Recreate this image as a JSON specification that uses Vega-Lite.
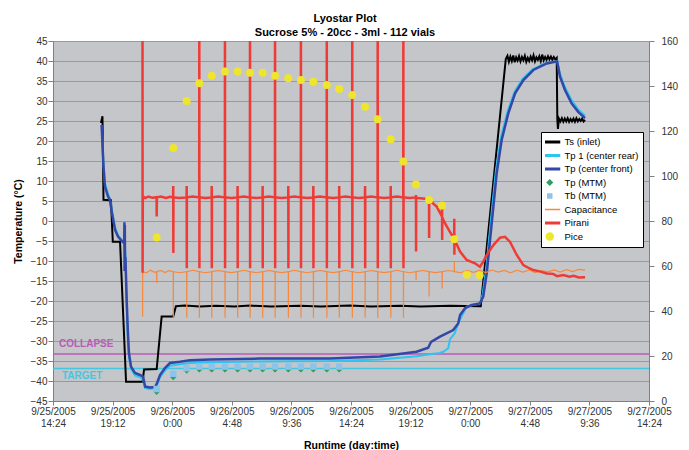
{
  "$schema": "https://vega.github.io/schema/vega-lite/v6.json",
  "width": 596,
  "height": 360,
  "autosize": {"type": "none"},
  "padding": {"left": 53, "top": 41, "right": 40, "bottom": 49},
  "background": "#FFFFFF",
  "config": {
    "view": {"fill": "#C5C6C9", "stroke": null},
    "font": "Liberation Sans",
    "axis": {"labelFont": "Liberation Sans", "titleFont": "Liberation Sans"}
  },
  "title": {
    "text": ["Lyostar Plot", "Sucrose 5% - 20cc - 3ml - 112 vials"],
    "font": "Liberation Sans",
    "fontSize": 11,
    "fontWeight": "bold",
    "color": "#000000",
    "anchor": "middle",
    "dx": -6,
    "offset": -11,
    "lineHeight": 14.3,
    "baseline": "alphabetic"
  },
  "datasets": {
    "legend": [
      {"s": "Ts (inlet)"}, {"s": "Tp 1 (center rear)"}, {"s": "Tp (center front)"}, {"s": "Tp (MTM)"},
      {"s": "Tb (MTM)"}, {"s": "Capacitance"}, {"s": "Pirani"}, {"s": "Pice"}
    ],
    "ref": [
      {"name": "COLLAPSE", "v": -33.25, "t": "2005-09-25T14:24:00", "t2": "2005-09-27T14:24:00"},
      {"name": "TARGET", "v": -36.9, "t": "2005-09-25T14:24:00", "t2": "2005-09-27T14:24:00"}
    ],
    "ts": [
      {"t": "2005-09-25T18:16:00", "v": 24.5}, {"t": "2005-09-25T18:23:00", "v": 26.2},
      {"t": "2005-09-25T18:28:00", "v": 5.3}, {"t": "2005-09-25T19:04:00", "v": 5.2},
      {"t": "2005-09-25T19:13:00", "v": -5.2}, {"t": "2005-09-25T19:48:00", "v": -5.2},
      {"t": "2005-09-25T20:17:00", "v": -40.2}, {"t": "2005-09-25T21:37:00", "v": -40.2},
      {"t": "2005-09-25T21:44:00", "v": -37.1}, {"t": "2005-09-25T22:45:00", "v": -37.0},
      {"t": "2005-09-25T23:09:00", "v": -23.9}, {"t": "2005-09-26T00:05:00", "v": -23.9},
      {"t": "2005-09-26T00:18:00", "v": -21.3}, {"t": "2005-09-26T01:00:00", "v": -21.1},
      {"t": "2005-09-26T02:14:00", "v": -21.4}, {"t": "2005-09-26T03:30:00", "v": -21.2},
      {"t": "2005-09-26T05:00:00", "v": -21.35}, {"t": "2005-09-26T06:16:00", "v": -21.15},
      {"t": "2005-09-26T08:00:00", "v": -21.4}, {"t": "2005-09-26T10:18:00", "v": -21.2},
      {"t": "2005-09-26T12:00:00", "v": -21.35}, {"t": "2005-09-26T14:19:00", "v": -21.15},
      {"t": "2005-09-26T16:00:00", "v": -21.4}, {"t": "2005-09-26T18:21:00", "v": -21.2},
      {"t": "2005-09-26T20:00:00", "v": -21.35}, {"t": "2005-09-26T22:22:00", "v": -21.2},
      {"t": "2005-09-27T00:51:00", "v": -21.3}, {"t": "2005-09-27T02:52:00", "v": 40.5},
      {"t": "2005-09-27T03:00:00", "v": 41.3}, {"t": "2005-09-27T03:07:00", "v": 39.8},
      {"t": "2005-09-27T03:14:00", "v": 41.1}, {"t": "2005-09-27T03:21:00", "v": 40.0},
      {"t": "2005-09-27T03:28:00", "v": 41.4}, {"t": "2005-09-27T03:35:00", "v": 39.7},
      {"t": "2005-09-27T03:42:00", "v": 40.9}, {"t": "2005-09-27T03:49:00", "v": 40.1},
      {"t": "2005-09-27T03:56:00", "v": 41.2}, {"t": "2005-09-27T04:03:00", "v": 39.9},
      {"t": "2005-09-27T04:10:00", "v": 41.0}, {"t": "2005-09-27T04:17:00", "v": 40.2},
      {"t": "2005-09-27T04:24:00", "v": 41.3}, {"t": "2005-09-27T04:31:00", "v": 39.8},
      {"t": "2005-09-27T04:38:00", "v": 40.8}, {"t": "2005-09-27T04:45:00", "v": 40.0},
      {"t": "2005-09-27T04:52:00", "v": 41.1}, {"t": "2005-09-27T04:59:00", "v": 40.2},
      {"t": "2005-09-27T05:06:00", "v": 41.4}, {"t": "2005-09-27T05:13:00", "v": 39.9},
      {"t": "2005-09-27T05:20:00", "v": 40.9}, {"t": "2005-09-27T05:27:00", "v": 40.3},
      {"t": "2005-09-27T05:34:00", "v": 41.2}, {"t": "2005-09-27T05:41:00", "v": 40.0},
      {"t": "2005-09-27T05:48:00", "v": 41.6}, {"t": "2005-09-27T05:55:00", "v": 40.2},
      {"t": "2005-09-27T06:02:00", "v": 41.0}, {"t": "2005-09-27T06:09:00", "v": 40.3},
      {"t": "2005-09-27T06:16:00", "v": 41.2}, {"t": "2005-09-27T06:23:00", "v": 40.4},
      {"t": "2005-09-27T06:30:00", "v": 41.1}, {"t": "2005-09-27T06:37:00", "v": 40.3},
      {"t": "2005-09-27T06:44:00", "v": 41.0}, {"t": "2005-09-27T06:51:00", "v": 40.4},
      {"t": "2005-09-27T06:58:00", "v": 40.8}, {"t": "2005-09-27T07:01:00", "v": 25.3},
      {"t": "2005-09-27T07:04:00", "v": 23.0}, {"t": "2005-09-27T07:09:00", "v": 25.6},
      {"t": "2005-09-27T07:16:00", "v": 24.9}, {"t": "2005-09-27T07:23:00", "v": 25.7},
      {"t": "2005-09-27T07:30:00", "v": 24.8}, {"t": "2005-09-27T07:37:00", "v": 25.6},
      {"t": "2005-09-27T07:44:00", "v": 24.9}, {"t": "2005-09-27T07:51:00", "v": 25.7},
      {"t": "2005-09-27T07:58:00", "v": 24.8}, {"t": "2005-09-27T08:05:00", "v": 25.5},
      {"t": "2005-09-27T08:12:00", "v": 24.9}, {"t": "2005-09-27T08:19:00", "v": 25.6},
      {"t": "2005-09-27T08:26:00", "v": 24.8}, {"t": "2005-09-27T08:33:00", "v": 25.7},
      {"t": "2005-09-27T08:40:00", "v": 24.9}, {"t": "2005-09-27T08:47:00", "v": 25.5},
      {"t": "2005-09-27T08:54:00", "v": 25.0}, {"t": "2005-09-27T09:01:00", "v": 25.6},
      {"t": "2005-09-27T09:08:00", "v": 24.9}, {"t": "2005-09-27T09:15:00", "v": 25.3}
    ],
    "tp1": [
      {"t": "2005-09-25T18:19:00", "v": 24.0}, {"t": "2005-09-25T18:28:00", "v": 14.5},
      {"t": "2005-09-25T18:35:00", "v": 9.5}, {"t": "2005-09-25T18:50:00", "v": 6.8},
      {"t": "2005-09-25T18:59:00", "v": 5.6}, {"t": "2005-09-25T19:09:00", "v": 2.6},
      {"t": "2005-09-25T19:24:00", "v": -1.6}, {"t": "2005-09-25T19:38:00", "v": -3.5},
      {"t": "2005-09-25T19:57:00", "v": -4.8}, {"t": "2005-09-25T20:08:00", "v": -5.4},
      {"t": "2005-09-25T20:14:00", "v": -8.0}, {"t": "2005-09-25T20:20:00", "v": -21.0},
      {"t": "2005-09-25T20:26:00", "v": -29.5}, {"t": "2005-09-25T20:31:00", "v": -34.0},
      {"t": "2005-09-25T20:41:00", "v": -37.0}, {"t": "2005-09-25T21:00:00", "v": -38.6},
      {"t": "2005-09-25T21:24:00", "v": -39.1}, {"t": "2005-09-25T21:39:00", "v": -39.5},
      {"t": "2005-09-25T21:49:00", "v": -41.8}, {"t": "2005-09-25T22:13:00", "v": -42.0},
      {"t": "2005-09-25T22:37:00", "v": -41.8}, {"t": "2005-09-25T22:47:00", "v": -41.0},
      {"t": "2005-09-25T23:01:00", "v": -39.1}, {"t": "2005-09-25T23:25:00", "v": -37.4},
      {"t": "2005-09-25T23:49:00", "v": -36.2}, {"t": "2005-09-26T00:38:00", "v": -35.8},
      {"t": "2005-09-26T01:26:00", "v": -35.5}, {"t": "2005-09-26T03:03:00", "v": -35.3},
      {"t": "2005-09-26T07:04:00", "v": -35.1}, {"t": "2005-09-26T12:42:00", "v": -35.0},
      {"t": "2005-09-26T16:44:00", "v": -34.6}, {"t": "2005-09-26T19:41:00", "v": -33.8},
      {"t": "2005-09-26T20:37:00", "v": -33.4}, {"t": "2005-09-26T21:34:00", "v": -33.0},
      {"t": "2005-09-26T21:50:00", "v": -32.7}, {"t": "2005-09-26T22:14:00", "v": -31.8},
      {"t": "2005-09-26T22:22:00", "v": -29.6}, {"t": "2005-09-26T22:46:00", "v": -28.0},
      {"t": "2005-09-26T23:02:00", "v": -25.6}, {"t": "2005-09-26T23:27:00", "v": -23.0},
      {"t": "2005-09-26T23:43:00", "v": -21.4}, {"t": "2005-09-27T00:47:00", "v": -20.6},
      {"t": "2005-09-27T01:00:00", "v": -18.3}, {"t": "2005-09-27T01:16:00", "v": -12.5},
      {"t": "2005-09-27T01:32:00", "v": -4.0}, {"t": "2005-09-27T01:48:00", "v": 4.5},
      {"t": "2005-09-27T02:04:00", "v": 12.5}, {"t": "2005-09-27T02:28:00", "v": 20.8},
      {"t": "2005-09-27T03:00:00", "v": 27.3}, {"t": "2005-09-27T03:33:00", "v": 32.2},
      {"t": "2005-09-27T04:13:00", "v": 35.5}, {"t": "2005-09-27T05:01:00", "v": 37.9},
      {"t": "2005-09-27T06:06:00", "v": 39.5}, {"t": "2005-09-27T06:50:00", "v": 39.9},
      {"t": "2005-09-27T07:00:00", "v": 40.0}, {"t": "2005-09-27T07:14:00", "v": 36.8},
      {"t": "2005-09-27T07:38:00", "v": 33.5}, {"t": "2005-09-27T08:10:00", "v": 30.2},
      {"t": "2005-09-27T08:42:00", "v": 27.9}, {"t": "2005-09-27T09:15:00", "v": 26.3}
    ],
    "tp": [
      {"t": "2005-09-25T18:19:00", "v": 24.0}, {"t": "2005-09-25T18:28:00", "v": 13.6},
      {"t": "2005-09-25T18:35:00", "v": 8.6}, {"t": "2005-09-25T18:50:00", "v": 6.1},
      {"t": "2005-09-25T18:59:00", "v": 5.25}, {"t": "2005-09-25T19:09:00", "v": 2.0},
      {"t": "2005-09-25T19:24:00", "v": -2.25}, {"t": "2005-09-25T19:38:00", "v": -3.9},
      {"t": "2005-09-25T19:57:00", "v": -5.0}, {"t": "2005-09-25T20:08:00", "v": -5.5},
      {"t": "2005-09-25T20:09:00", "v": -0.3}, {"t": "2005-09-25T20:10:00", "v": -12.5},
      {"t": "2005-09-25T20:11:00", "v": -1.0}, {"t": "2005-09-25T20:12:00", "v": -12.0},
      {"t": "2005-09-25T20:14:00", "v": -9.0}, {"t": "2005-09-25T20:20:00", "v": -19.75},
      {"t": "2005-09-25T20:26:00", "v": -28.0}, {"t": "2005-09-25T20:31:00", "v": -33.0},
      {"t": "2005-09-25T20:41:00", "v": -36.4}, {"t": "2005-09-25T21:00:00", "v": -38.0},
      {"t": "2005-09-25T21:24:00", "v": -38.5}, {"t": "2005-09-25T21:39:00", "v": -38.9},
      {"t": "2005-09-25T21:49:00", "v": -41.4}, {"t": "2005-09-25T22:13:00", "v": -41.6},
      {"t": "2005-09-25T22:37:00", "v": -41.5}, {"t": "2005-09-25T22:47:00", "v": -40.5},
      {"t": "2005-09-25T23:01:00", "v": -38.5}, {"t": "2005-09-25T23:25:00", "v": -36.75},
      {"t": "2005-09-25T23:49:00", "v": -35.5}, {"t": "2005-09-26T00:38:00", "v": -35.2},
      {"t": "2005-09-26T01:26:00", "v": -34.8}, {"t": "2005-09-26T03:03:00", "v": -34.6},
      {"t": "2005-09-26T07:04:00", "v": -34.4}, {"t": "2005-09-26T12:42:00", "v": -34.4},
      {"t": "2005-09-26T16:44:00", "v": -33.9}, {"t": "2005-09-26T19:41:00", "v": -32.7},
      {"t": "2005-09-26T20:37:00", "v": -31.7}, {"t": "2005-09-26T20:51:00", "v": -30.2},
      {"t": "2005-09-26T21:34:00", "v": -28.9}, {"t": "2005-09-26T22:38:00", "v": -27.25},
      {"t": "2005-09-26T23:02:00", "v": -25.6}, {"t": "2005-09-26T23:11:00", "v": -23.5},
      {"t": "2005-09-26T23:35:00", "v": -21.8}, {"t": "2005-09-27T00:07:00", "v": -21.0},
      {"t": "2005-09-27T00:47:00", "v": -20.6}, {"t": "2005-09-27T01:03:00", "v": -18.9},
      {"t": "2005-09-27T01:20:00", "v": -13.0}, {"t": "2005-09-27T01:36:00", "v": -4.75},
      {"t": "2005-09-27T01:52:00", "v": 3.6}, {"t": "2005-09-27T02:08:00", "v": 11.9},
      {"t": "2005-09-27T02:32:00", "v": 20.25}, {"t": "2005-09-27T03:04:00", "v": 26.9},
      {"t": "2005-09-27T03:37:00", "v": 31.9}, {"t": "2005-09-27T04:17:00", "v": 35.25},
      {"t": "2005-09-27T05:05:00", "v": 37.75}, {"t": "2005-09-27T06:10:00", "v": 39.4},
      {"t": "2005-09-27T06:50:00", "v": 39.8}, {"t": "2005-09-27T07:00:00", "v": 39.9},
      {"t": "2005-09-27T07:14:00", "v": 36.1}, {"t": "2005-09-27T07:38:00", "v": 32.75},
      {"t": "2005-09-27T08:10:00", "v": 29.4}, {"t": "2005-09-27T08:42:00", "v": 27.3},
      {"t": "2005-09-27T09:15:00", "v": 25.7}
    ],
    "tpm": [
      {"t": "2005-09-25T22:45:00", "v": -42.7}, {"t": "2005-09-26T00:05:00", "v": -39.0},
      {"t": "2005-09-26T01:10:00", "v": -37.4}, {"t": "2005-09-26T02:11:00", "v": -37.1},
      {"t": "2005-09-26T03:11:00", "v": -37.1}, {"t": "2005-09-26T04:15:00", "v": -37.1},
      {"t": "2005-09-26T05:16:00", "v": -37.1}, {"t": "2005-09-26T06:16:00", "v": -37.1},
      {"t": "2005-09-26T07:17:00", "v": -37.1}, {"t": "2005-09-26T08:17:00", "v": -37.1},
      {"t": "2005-09-26T09:21:00", "v": -37.1}, {"t": "2005-09-26T10:22:00", "v": -37.1},
      {"t": "2005-09-26T11:22:00", "v": -37.1}, {"t": "2005-09-26T12:27:00", "v": -37.1},
      {"t": "2005-09-26T13:27:00", "v": -37.1}
    ],
    "tbm": [
      {"t": "2005-09-25T22:45:00", "v": -42.0}, {"t": "2005-09-26T00:05:00", "v": -38.2},
      {"t": "2005-09-26T01:10:00", "v": -36.8}, {"t": "2005-09-26T02:11:00", "v": -36.4},
      {"t": "2005-09-26T03:11:00", "v": -36.4}, {"t": "2005-09-26T04:15:00", "v": -36.4},
      {"t": "2005-09-26T05:16:00", "v": -36.4}, {"t": "2005-09-26T06:16:00", "v": -36.4},
      {"t": "2005-09-26T07:17:00", "v": -36.4}, {"t": "2005-09-26T08:17:00", "v": -36.4},
      {"t": "2005-09-26T09:21:00", "v": -36.4}, {"t": "2005-09-26T10:22:00", "v": -36.4},
      {"t": "2005-09-26T11:22:00", "v": -36.4}, {"t": "2005-09-26T12:27:00", "v": -36.4},
      {"t": "2005-09-26T13:27:00", "v": -36.4}
    ],
    "cap": [
      {"t": "2005-09-25T21:37:00", "v": 37.5}, {"t": "2005-09-25T21:37:30", "v": 57.5},
      {"t": "2005-09-25T21:55:00", "v": 57.0}, {"t": "2005-09-25T22:15:00", "v": 58.1},
      {"t": "2005-09-25T22:35:00", "v": 57.2}, {"t": "2005-09-25T22:45:00", "v": 57.5},
      {"t": "2005-09-25T22:45:30", "v": 52.4}, {"t": "2005-09-25T22:46:00", "v": 57.5},
      {"t": "2005-09-25T23:05:00", "v": 58.0}, {"t": "2005-09-25T23:25:00", "v": 57.1},
      {"t": "2005-09-25T23:45:00", "v": 57.9},
      {"t": "2005-09-26T00:05:00", "v": 57.5}, {"t": "2005-09-26T00:05:30", "v": 37}, {"t": "2005-09-26T00:06:00", "v": 57.5},
      {"t": "2005-09-26T00:35:00", "v": 57.0},
      {"t": "2005-09-26T01:10:00", "v": 57.5}, {"t": "2005-09-26T01:10:30", "v": 37}, {"t": "2005-09-26T01:11:00", "v": 57.5},
      {"t": "2005-09-26T01:40:00", "v": 58.1},
      {"t": "2005-09-26T02:11:00", "v": 57.5}, {"t": "2005-09-26T02:11:30", "v": 37}, {"t": "2005-09-26T02:12:00", "v": 57.5},
      {"t": "2005-09-26T02:41:00", "v": 57.0},
      {"t": "2005-09-26T03:11:00", "v": 57.5}, {"t": "2005-09-26T03:11:30", "v": 37}, {"t": "2005-09-26T03:12:00", "v": 57.5},
      {"t": "2005-09-26T03:43:00", "v": 58.0},
      {"t": "2005-09-26T04:15:00", "v": 57.5}, {"t": "2005-09-26T04:15:30", "v": 37}, {"t": "2005-09-26T04:16:00", "v": 57.5},
      {"t": "2005-09-26T04:45:00", "v": 57.1},
      {"t": "2005-09-26T05:16:00", "v": 57.5}, {"t": "2005-09-26T05:16:30", "v": 37}, {"t": "2005-09-26T05:17:00", "v": 57.5},
      {"t": "2005-09-26T05:46:00", "v": 58.1},
      {"t": "2005-09-26T06:16:00", "v": 57.5}, {"t": "2005-09-26T06:16:30", "v": 37}, {"t": "2005-09-26T06:17:00", "v": 57.5},
      {"t": "2005-09-26T06:46:00", "v": 57.0},
      {"t": "2005-09-26T07:17:00", "v": 57.5}, {"t": "2005-09-26T07:17:30", "v": 37}, {"t": "2005-09-26T07:18:00", "v": 57.5},
      {"t": "2005-09-26T07:47:00", "v": 58.0},
      {"t": "2005-09-26T08:17:00", "v": 57.5}, {"t": "2005-09-26T08:17:30", "v": 37}, {"t": "2005-09-26T08:18:00", "v": 57.5},
      {"t": "2005-09-26T08:49:00", "v": 57.1},
      {"t": "2005-09-26T09:21:00", "v": 57.5}, {"t": "2005-09-26T09:21:30", "v": 37}, {"t": "2005-09-26T09:22:00", "v": 57.5},
      {"t": "2005-09-26T09:51:00", "v": 58.1},
      {"t": "2005-09-26T10:22:00", "v": 57.5}, {"t": "2005-09-26T10:22:30", "v": 37}, {"t": "2005-09-26T10:23:00", "v": 57.5},
      {"t": "2005-09-26T10:52:00", "v": 57.0},
      {"t": "2005-09-26T11:22:00", "v": 57.5}, {"t": "2005-09-26T11:22:30", "v": 37}, {"t": "2005-09-26T11:23:00", "v": 57.5},
      {"t": "2005-09-26T11:54:00", "v": 58.0},
      {"t": "2005-09-26T12:27:00", "v": 57.5}, {"t": "2005-09-26T12:27:30", "v": 37}, {"t": "2005-09-26T12:28:00", "v": 57.5},
      {"t": "2005-09-26T12:57:00", "v": 57.1},
      {"t": "2005-09-26T13:27:00", "v": 57.5}, {"t": "2005-09-26T13:27:30", "v": 37}, {"t": "2005-09-26T13:28:00", "v": 57.5},
      {"t": "2005-09-26T13:58:00", "v": 58.1},
      {"t": "2005-09-26T14:30:00", "v": 57.5}, {"t": "2005-09-26T14:30:30", "v": 37}, {"t": "2005-09-26T14:31:00", "v": 57.5},
      {"t": "2005-09-26T15:01:00", "v": 57.0},
      {"t": "2005-09-26T15:32:00", "v": 57.5}, {"t": "2005-09-26T15:32:30", "v": 37}, {"t": "2005-09-26T15:33:00", "v": 57.5},
      {"t": "2005-09-26T16:02:00", "v": 58.0},
      {"t": "2005-09-26T16:33:00", "v": 57.5}, {"t": "2005-09-26T16:33:30", "v": 37}, {"t": "2005-09-26T16:34:00", "v": 57.5},
      {"t": "2005-09-26T17:04:00", "v": 57.1},
      {"t": "2005-09-26T17:36:00", "v": 57.5}, {"t": "2005-09-26T17:36:30", "v": 37}, {"t": "2005-09-26T17:37:00", "v": 57.5},
      {"t": "2005-09-26T18:06:00", "v": 58.1},
      {"t": "2005-09-26T18:37:00", "v": 57.5}, {"t": "2005-09-26T18:37:30", "v": 37}, {"t": "2005-09-26T18:38:00", "v": 57.5},
      {"t": "2005-09-26T19:07:00", "v": 57.0},
      {"t": "2005-09-26T19:38:00", "v": 57.5}, {"t": "2005-09-26T19:38:30", "v": 53.8}, {"t": "2005-09-26T19:39:00", "v": 57.5},
      {"t": "2005-09-26T20:10:00", "v": 58.0},
      {"t": "2005-09-26T20:41:00", "v": 57.5}, {"t": "2005-09-26T20:41:30", "v": 46.4}, {"t": "2005-09-26T20:42:00", "v": 57.5},
      {"t": "2005-09-26T21:12:00", "v": 57.1},
      {"t": "2005-09-26T21:44:00", "v": 57.5}, {"t": "2005-09-26T21:44:30", "v": 50.0}, {"t": "2005-09-26T21:45:00", "v": 57.5},
      {"t": "2005-09-26T22:14:00", "v": 58.0},
      {"t": "2005-09-26T22:43:00", "v": 57.5}, {"t": "2005-09-26T22:43:30", "v": 61.9}, {"t": "2005-09-26T22:44:00", "v": 57.5},
      {"t": "2005-09-26T23:15:00", "v": 57.0}, {"t": "2005-09-26T23:45:00", "v": 58.1},
      {"t": "2005-09-27T00:15:00", "v": 57.2}, {"t": "2005-09-27T00:45:00", "v": 58.0},
      {"t": "2005-09-27T01:15:00", "v": 57.1}, {"t": "2005-09-27T01:45:00", "v": 58.2},
      {"t": "2005-09-27T02:15:00", "v": 57.3}, {"t": "2005-09-27T02:45:00", "v": 58.0},
      {"t": "2005-09-27T03:15:00", "v": 57.0}, {"t": "2005-09-27T03:45:00", "v": 58.1},
      {"t": "2005-09-27T04:15:00", "v": 57.3}, {"t": "2005-09-27T04:45:00", "v": 58.2},
      {"t": "2005-09-27T05:15:00", "v": 57.1}, {"t": "2005-09-27T05:45:00", "v": 58.0},
      {"t": "2005-09-27T06:15:00", "v": 57.4}, {"t": "2005-09-27T06:45:00", "v": 58.3},
      {"t": "2005-09-27T07:15:00", "v": 57.3}, {"t": "2005-09-27T07:45:00", "v": 58.4},
      {"t": "2005-09-27T08:15:00", "v": 57.5}, {"t": "2005-09-27T08:45:00", "v": 58.5},
      {"t": "2005-09-27T09:15:00", "v": 58.2}
    ],
    "pir": [
      {"t": "2005-09-25T21:36:30", "v": 175}, {"t": "2005-09-25T21:37:00", "v": 57},
      {"t": "2005-09-25T21:38:00", "v": 91}, {"t": "2005-09-25T21:50:00", "v": 90.2},
      {"t": "2005-09-25T22:05:00", "v": 90.9}, {"t": "2005-09-25T22:25:00", "v": 90.3},
      {"t": "2005-09-25T22:44:30", "v": 90.6}, {"t": "2005-09-25T22:45:00", "v": 82},
      {"t": "2005-09-25T22:46:00", "v": 90.5}, {"t": "2005-09-25T23:05:00", "v": 90.9},
      {"t": "2005-09-25T23:30:00", "v": 90.2}, {"t": "2005-09-25T23:50:00", "v": 90.8},
      {"t": "2005-09-26T00:04:30", "v": 90.5}, {"t": "2005-09-26T00:05:00", "v": 95.5}, {"t": "2005-09-26T00:05:30", "v": 65.8}, {"t": "2005-09-26T00:06:00", "v": 90.5},
      {"t": "2005-09-26T00:35:00", "v": 90.2},
      {"t": "2005-09-26T01:09:30", "v": 90.5}, {"t": "2005-09-26T01:10:00", "v": 95.5}, {"t": "2005-09-26T01:10:30", "v": 59}, {"t": "2005-09-26T01:11:00", "v": 90.5},
      {"t": "2005-09-26T01:40:00", "v": 90.9},
      {"t": "2005-09-26T02:10:30", "v": 90.5}, {"t": "2005-09-26T02:11:00", "v": 175}, {"t": "2005-09-26T02:11:30", "v": 59}, {"t": "2005-09-26T02:12:00", "v": 90.5},
      {"t": "2005-09-26T02:41:00", "v": 90.2},
      {"t": "2005-09-26T03:10:30", "v": 90.5}, {"t": "2005-09-26T03:11:00", "v": 95.5}, {"t": "2005-09-26T03:11:30", "v": 59}, {"t": "2005-09-26T03:12:00", "v": 90.5},
      {"t": "2005-09-26T03:43:00", "v": 90.9},
      {"t": "2005-09-26T04:14:30", "v": 90.5}, {"t": "2005-09-26T04:15:00", "v": 175}, {"t": "2005-09-26T04:15:30", "v": 59}, {"t": "2005-09-26T04:16:00", "v": 90.5},
      {"t": "2005-09-26T04:45:00", "v": 90.2},
      {"t": "2005-09-26T05:15:30", "v": 90.5}, {"t": "2005-09-26T05:16:00", "v": 95.5}, {"t": "2005-09-26T05:16:30", "v": 59}, {"t": "2005-09-26T05:17:00", "v": 90.5},
      {"t": "2005-09-26T05:46:00", "v": 90.9},
      {"t": "2005-09-26T06:15:30", "v": 90.5}, {"t": "2005-09-26T06:16:00", "v": 175}, {"t": "2005-09-26T06:16:30", "v": 59}, {"t": "2005-09-26T06:17:00", "v": 90.5},
      {"t": "2005-09-26T06:46:00", "v": 90.2},
      {"t": "2005-09-26T07:16:30", "v": 90.5}, {"t": "2005-09-26T07:17:00", "v": 95.5}, {"t": "2005-09-26T07:17:30", "v": 59}, {"t": "2005-09-26T07:18:00", "v": 90.5},
      {"t": "2005-09-26T07:47:00", "v": 90.9},
      {"t": "2005-09-26T08:16:30", "v": 90.5}, {"t": "2005-09-26T08:17:00", "v": 175}, {"t": "2005-09-26T08:17:30", "v": 59}, {"t": "2005-09-26T08:18:00", "v": 90.5},
      {"t": "2005-09-26T08:49:00", "v": 90.2},
      {"t": "2005-09-26T09:20:30", "v": 90.5}, {"t": "2005-09-26T09:21:00", "v": 95.5}, {"t": "2005-09-26T09:21:30", "v": 59}, {"t": "2005-09-26T09:22:00", "v": 90.5},
      {"t": "2005-09-26T09:51:00", "v": 90.9},
      {"t": "2005-09-26T10:21:30", "v": 90.5}, {"t": "2005-09-26T10:22:00", "v": 175}, {"t": "2005-09-26T10:22:30", "v": 59}, {"t": "2005-09-26T10:23:00", "v": 90.5},
      {"t": "2005-09-26T10:52:00", "v": 90.2},
      {"t": "2005-09-26T11:21:30", "v": 90.5}, {"t": "2005-09-26T11:22:00", "v": 95.5}, {"t": "2005-09-26T11:22:30", "v": 59}, {"t": "2005-09-26T11:23:00", "v": 90.5},
      {"t": "2005-09-26T11:54:00", "v": 90.9},
      {"t": "2005-09-26T12:26:30", "v": 90.5}, {"t": "2005-09-26T12:27:00", "v": 175}, {"t": "2005-09-26T12:27:30", "v": 59}, {"t": "2005-09-26T12:28:00", "v": 90.5},
      {"t": "2005-09-26T12:57:00", "v": 90.2},
      {"t": "2005-09-26T13:26:30", "v": 90.5}, {"t": "2005-09-26T13:27:00", "v": 95.5}, {"t": "2005-09-26T13:27:30", "v": 59}, {"t": "2005-09-26T13:28:00", "v": 90.5},
      {"t": "2005-09-26T13:58:00", "v": 90.9},
      {"t": "2005-09-26T14:29:30", "v": 90.5}, {"t": "2005-09-26T14:30:00", "v": 175}, {"t": "2005-09-26T14:30:30", "v": 59}, {"t": "2005-09-26T14:31:00", "v": 90.5},
      {"t": "2005-09-26T15:01:00", "v": 90.2},
      {"t": "2005-09-26T15:31:30", "v": 90.5}, {"t": "2005-09-26T15:32:00", "v": 95.5}, {"t": "2005-09-26T15:32:30", "v": 59}, {"t": "2005-09-26T15:33:00", "v": 90.5},
      {"t": "2005-09-26T16:02:00", "v": 90.9},
      {"t": "2005-09-26T16:32:30", "v": 90.5}, {"t": "2005-09-26T16:33:00", "v": 175}, {"t": "2005-09-26T16:33:30", "v": 59}, {"t": "2005-09-26T16:34:00", "v": 90.5},
      {"t": "2005-09-26T17:04:00", "v": 90.2},
      {"t": "2005-09-26T17:35:30", "v": 90.5}, {"t": "2005-09-26T17:36:00", "v": 95.5}, {"t": "2005-09-26T17:36:30", "v": 59}, {"t": "2005-09-26T17:37:00", "v": 90.5},
      {"t": "2005-09-26T18:06:00", "v": 90.9},
      {"t": "2005-09-26T18:36:30", "v": 90.5}, {"t": "2005-09-26T18:37:00", "v": 175}, {"t": "2005-09-26T18:37:30", "v": 59}, {"t": "2005-09-26T18:38:00", "v": 90.5},
      {"t": "2005-09-26T19:07:00", "v": 90.2},
      {"t": "2005-09-26T19:37:30", "v": 90.5}, {"t": "2005-09-26T19:38:00", "v": 91.5}, {"t": "2005-09-26T19:38:30", "v": 66.4}, {"t": "2005-09-26T19:39:00", "v": 90.3},
      {"t": "2005-09-26T20:10:00", "v": 90.0}, {"t": "2005-09-26T20:30:00", "v": 89.8},
      {"t": "2005-09-26T20:40:30", "v": 89.5}, {"t": "2005-09-26T20:41:00", "v": 90.0}, {"t": "2005-09-26T20:41:30", "v": 72.4}, {"t": "2005-09-26T20:42:00", "v": 89.2},
      {"t": "2005-09-26T20:55:00", "v": 88.2}, {"t": "2005-09-26T21:18:00", "v": 86.4},
      {"t": "2005-09-26T21:35:00", "v": 83.5},
      {"t": "2005-09-26T21:43:30", "v": 82.0}, {"t": "2005-09-26T21:44:00", "v": 88.0}, {"t": "2005-09-26T21:44:30", "v": 71.6}, {"t": "2005-09-26T21:45:00", "v": 81.5},
      {"t": "2005-09-26T21:58:00", "v": 79.0}, {"t": "2005-09-26T22:20:00", "v": 75.5},
      {"t": "2005-09-26T22:38:00", "v": 72.8},
      {"t": "2005-09-26T22:42:30", "v": 72.3}, {"t": "2005-09-26T22:43:00", "v": 81.0}, {"t": "2005-09-26T22:43:30", "v": 65.0}, {"t": "2005-09-26T22:44:00", "v": 71.8},
      {"t": "2005-09-26T23:11:00", "v": 66.4}, {"t": "2005-09-26T23:43:00", "v": 62.7},
      {"t": "2005-09-27T00:23:00", "v": 61.2}, {"t": "2005-09-27T00:47:00", "v": 59.7},
      {"t": "2005-09-27T01:05:00", "v": 62.2}, {"t": "2005-09-27T01:20:00", "v": 64.9},
      {"t": "2005-09-27T01:52:00", "v": 69.3}, {"t": "2005-09-27T02:24:00", "v": 72.6},
      {"t": "2005-09-27T02:48:00", "v": 73.0}, {"t": "2005-09-27T03:12:00", "v": 70.8},
      {"t": "2005-09-27T03:45:00", "v": 64.9}, {"t": "2005-09-27T04:17:00", "v": 60.4},
      {"t": "2005-09-27T04:45:00", "v": 59.0}, {"t": "2005-09-27T05:05:00", "v": 58.2},
      {"t": "2005-09-27T05:35:00", "v": 57.6}, {"t": "2005-09-27T06:10:00", "v": 56.7},
      {"t": "2005-09-27T06:40:00", "v": 56.5}, {"t": "2005-09-27T07:00:00", "v": 55.5},
      {"t": "2005-09-27T07:30:00", "v": 56.0}, {"t": "2005-09-27T08:00:00", "v": 55.2},
      {"t": "2005-09-27T08:20:00", "v": 55.6}, {"t": "2005-09-27T08:45:00", "v": 54.9},
      {"t": "2005-09-27T09:15:00", "v": 55.0}
    ],
    "pice": [
      {"t": "2005-09-25T22:45:00", "v": 72.7}, {"t": "2005-09-26T00:05:00", "v": 112.5},
      {"t": "2005-09-26T01:10:00", "v": 133.3}, {"t": "2005-09-26T02:11:00", "v": 141.2},
      {"t": "2005-09-26T03:11:00", "v": 144.6}, {"t": "2005-09-26T04:15:00", "v": 146.4},
      {"t": "2005-09-26T05:16:00", "v": 146.4}, {"t": "2005-09-26T06:16:00", "v": 145.9},
      {"t": "2005-09-26T07:17:00", "v": 145.9}, {"t": "2005-09-26T08:17:00", "v": 144.6},
      {"t": "2005-09-26T09:21:00", "v": 143.4}, {"t": "2005-09-26T10:22:00", "v": 142.7},
      {"t": "2005-09-26T11:22:00", "v": 141.9}, {"t": "2005-09-26T12:27:00", "v": 140.4},
      {"t": "2005-09-26T13:27:00", "v": 138.7}, {"t": "2005-09-26T14:30:00", "v": 136.0},
      {"t": "2005-09-26T15:32:00", "v": 130.8}, {"t": "2005-09-26T16:33:00", "v": 125.2},
      {"t": "2005-09-26T17:36:00", "v": 116.3}, {"t": "2005-09-26T18:37:00", "v": 106.4},
      {"t": "2005-09-26T19:38:00", "v": 96.2}, {"t": "2005-09-26T20:41:00", "v": 89.3},
      {"t": "2005-09-26T21:44:00", "v": 86.9}, {"t": "2005-09-26T22:43:00", "v": 71.9},
      {"t": "2005-09-26T23:44:00", "v": 56.1}, {"t": "2005-09-27T00:46:00", "v": 55.9}
    ]
  },
  "encoding": {
    "x": {
      "field": "t",
      "type": "temporal",
      "scale": {
        "domain": [
          {"year": 2005, "month": 9, "date": 25, "hours": 14, "minutes": 24},
          {"year": 2005, "month": 9, "date": 27, "hours": 14, "minutes": 24}
        ]
      },
      "axis": {
        "values": [
          {"year": 2005, "month": 9, "date": 25, "hours": 14, "minutes": 24},
          {"year": 2005, "month": 9, "date": 25, "hours": 19, "minutes": 12},
          {"year": 2005, "month": 9, "date": 26, "hours": 0, "minutes": 0},
          {"year": 2005, "month": 9, "date": 26, "hours": 4, "minutes": 48},
          {"year": 2005, "month": 9, "date": 26, "hours": 9, "minutes": 36},
          {"year": 2005, "month": 9, "date": 26, "hours": 14, "minutes": 24},
          {"year": 2005, "month": 9, "date": 26, "hours": 19, "minutes": 12},
          {"year": 2005, "month": 9, "date": 27, "hours": 0, "minutes": 0},
          {"year": 2005, "month": 9, "date": 27, "hours": 4, "minutes": 48},
          {"year": 2005, "month": 9, "date": 27, "hours": 9, "minutes": 36},
          {"year": 2005, "month": 9, "date": 27, "hours": 14, "minutes": 24}
        ],
        "labelExpr": "[timeFormat(datum.value, '%-m/%-d/%Y'), timeFormat(datum.value, '%-H:%M')]",
        "labelFontSize": 10,
        "labelColor": "#333333",
        "labelLineHeight": 12.5,
        "labelBaseline": "top",
        "labelPadding": 1,
        "labelOverlap": false,
        "labelFlush": false,
        "labelBound": false,
        "tickSize": 4,
        "tickColor": "#808080",
        "domainColor": "#808080",
        "grid": false,
        "title": "Runtime (day:time)",
        "titleFontSize": 10.5,
        "titleFontWeight": "bold",
        "titleColor": "#000000",
        "titleBaseline": "alphabetic",
        "titleY": 47
      }
    }
  },
  "layer": [
    {
      "encoding": {
        "y": {
          "field": "v",
          "type": "quantitative",
          "scale": {"domain": [-45, 45], "nice": false, "zero": false},
          "axis": {
            "orient": "left",
            "values": [-45, -40, -35, -30, -25, -20, -15, -10, -5, 0, 5, 10, 15, 20, 25, 30, 35, 40, 45],
            "grid": true,
            "gridColor": "#989A9D",
            "gridWidth": 1,
            "domainColor": "#808080",
            "tickColor": "#808080",
            "tickSize": 5,
            "labelPadding": 1,
            "labelFontSize": 10,
            "labelColor": "#333333",
            "title": "Temperature (°C)",
            "titleFontSize": 10.5,
            "titleFontWeight": "bold",
            "titleColor": "#000000",
            "titleAngle": -90,
            "titleX": -35,
            "titleY": 180,
            "titleAlign": "center",
            "titleBaseline": "middle"
          }
        }
      },
      "layer": [
        {
          "data": {"name": "ref"},
          "transform": [{"filter": "datum.name == 'COLLAPSE'"}],
          "mark": {"type": "rule", "color": "#B65DB6", "strokeWidth": 1.5},
          "encoding": {"x2": {"field": "t2"}}
        },
        {
          "data": {"name": "ref"},
          "transform": [{"filter": "datum.name == 'TARGET'"}],
          "mark": {"type": "rule", "color": "#45C6E0", "strokeWidth": 1.5},
          "encoding": {"x2": {"field": "t2"}}
        },
        {
          "data": {"name": "ref"},
          "transform": [{"filter": "datum.name == 'COLLAPSE'"}],
          "mark": {"type": "text", "color": "#B65DB6", "font": "Liberation Sans", "fontWeight": "bold", "fontSize": 10, "align": "left", "baseline": "alphabetic", "dx": 6, "dy": -7.5},
          "encoding": {"text": {"field": "name"}}
        },
        {
          "data": {"name": "ref"},
          "transform": [{"filter": "datum.name == 'TARGET'"}],
          "mark": {"type": "text", "color": "#45C6E0", "font": "Liberation Sans", "fontWeight": "bold", "fontSize": 10, "align": "left", "baseline": "alphabetic", "dx": 9, "dy": 10},
          "encoding": {"text": {"field": "name"}}
        },
        {
          "data": {"name": "ts"},
          "mark": {"type": "line", "color": "#000000", "strokeWidth": 2},
          "encoding": {}
        },
        {
          "data": {"name": "tp1"},
          "mark": {"type": "line", "color": "#2EC4F2", "strokeWidth": 2},
          "encoding": {}
        },
        {
          "data": {"name": "tp"},
          "mark": {"type": "line", "color": "#3347A6", "strokeWidth": 2.5},
          "encoding": {}
        },
        {
          "data": {"name": "tpm"},
          "mark": {"type": "point", "shape": "diamond", "filled": true, "size": 40, "color": "#2E9E63", "opacity": 1},
          "encoding": {}
        },
        {
          "data": {"name": "tbm"},
          "mark": {"type": "point", "shape": "square", "filled": true, "size": 42, "color": "#8CC3EA", "opacity": 1},
          "encoding": {}
        },
        {
          "data": {"name": "legend"},
          "mark": {"type": "point", "filled": true, "opacity": 0},
          "encoding": {
            "color": {
              "field": "s",
              "type": "nominal",
              "scale": {
                "domain": ["Ts (inlet)", "Tp 1 (center rear)", "Tp (center front)", "Tp (MTM)", "Tb (MTM)", "Capacitance", "Pirani", "Pice"],
                "range": ["#000000", "#2EC4F2", "#3347A6", "#2E9E63", "#8CC3EA", "#F7883C", "#EF3B36", "#EFE52A"]
              },
              "legend": {
                "title": null,
                "orient": "none",
                "legendX": 488,
                "legendY": 91,
                "fillColor": "#FFFFFF",
                "strokeColor": "#000000",
                "padding": 4,
                "labelFont": "Liberation Sans",
                "labelFontSize": 9.5,
                "labelColor": "#000000",
                "labelOffset": 10,
                "symbolSize": 441,
                "symbolType": "stroke",
                "symbolStrokeWidth": 3,
                "symbolOpacity": 1,
                "clipHeight": 12,
                "rowPadding": 1.5,
                "encode": {
                  "symbols": {
                    "update": {
                      "shape": {"signal": "datum.value == 'Tp (MTM)' ? 'diamond' : datum.value == 'Tb (MTM)' ? 'square' : datum.value == 'Pice' ? 'circle' : 'stroke'"},
                      "size": {"signal": "datum.value == 'Tp (MTM)' ? 50 : datum.value == 'Tb (MTM)' ? 30 : datum.value == 'Pice' ? 70 : 441"},
                      "fill": {"signal": "indexof(['Tp (MTM)', 'Tb (MTM)', 'Pice'], datum.value) >= 0 ? scale('color', datum.value) : 'transparent'"},
                      "stroke": {"signal": "indexof(['Tp (MTM)', 'Tb (MTM)', 'Pice'], datum.value) >= 0 ? 'transparent' : scale('color', datum.value)"},
                      "strokeWidth": {"signal": "datum.value == 'Capacitance' ? 1.5 : 3"},
                      "opacity": {"value": 1}
                    }
                  }
                }
              }
            }
          }
        }
      ]
    },
    {
      "encoding": {
        "y": {
          "field": "v",
          "type": "quantitative",
          "scale": {"domain": [0, 160], "nice": false},
          "axis": {
            "orient": "right",
            "values": [0, 20, 40, 60, 80, 100, 120, 140, 160],
            "grid": false,
            "domainColor": "#808080",
            "tickColor": "#808080",
            "tickSize": 5,
            "labelPadding": 7,
            "labelFontSize": 10,
            "labelColor": "#333333",
            "title": null
          }
        }
      },
      "layer": [
        {
          "data": {"name": "cap"},
          "mark": {"type": "line", "color": "#F7883C", "strokeWidth": 1.2, "clip": true},
          "encoding": {}
        },
        {
          "data": {"name": "pir"},
          "mark": {"type": "line", "color": "#EF3B36", "strokeWidth": 2.5, "clip": true},
          "encoding": {}
        },
        {
          "data": {"name": "pice"},
          "mark": {"type": "circle", "size": 64, "color": "#EFE52A", "opacity": 1},
          "encoding": {}
        }
      ]
    }
  ],
  "resolve": {"scale": {"y": "independent"}}
}
